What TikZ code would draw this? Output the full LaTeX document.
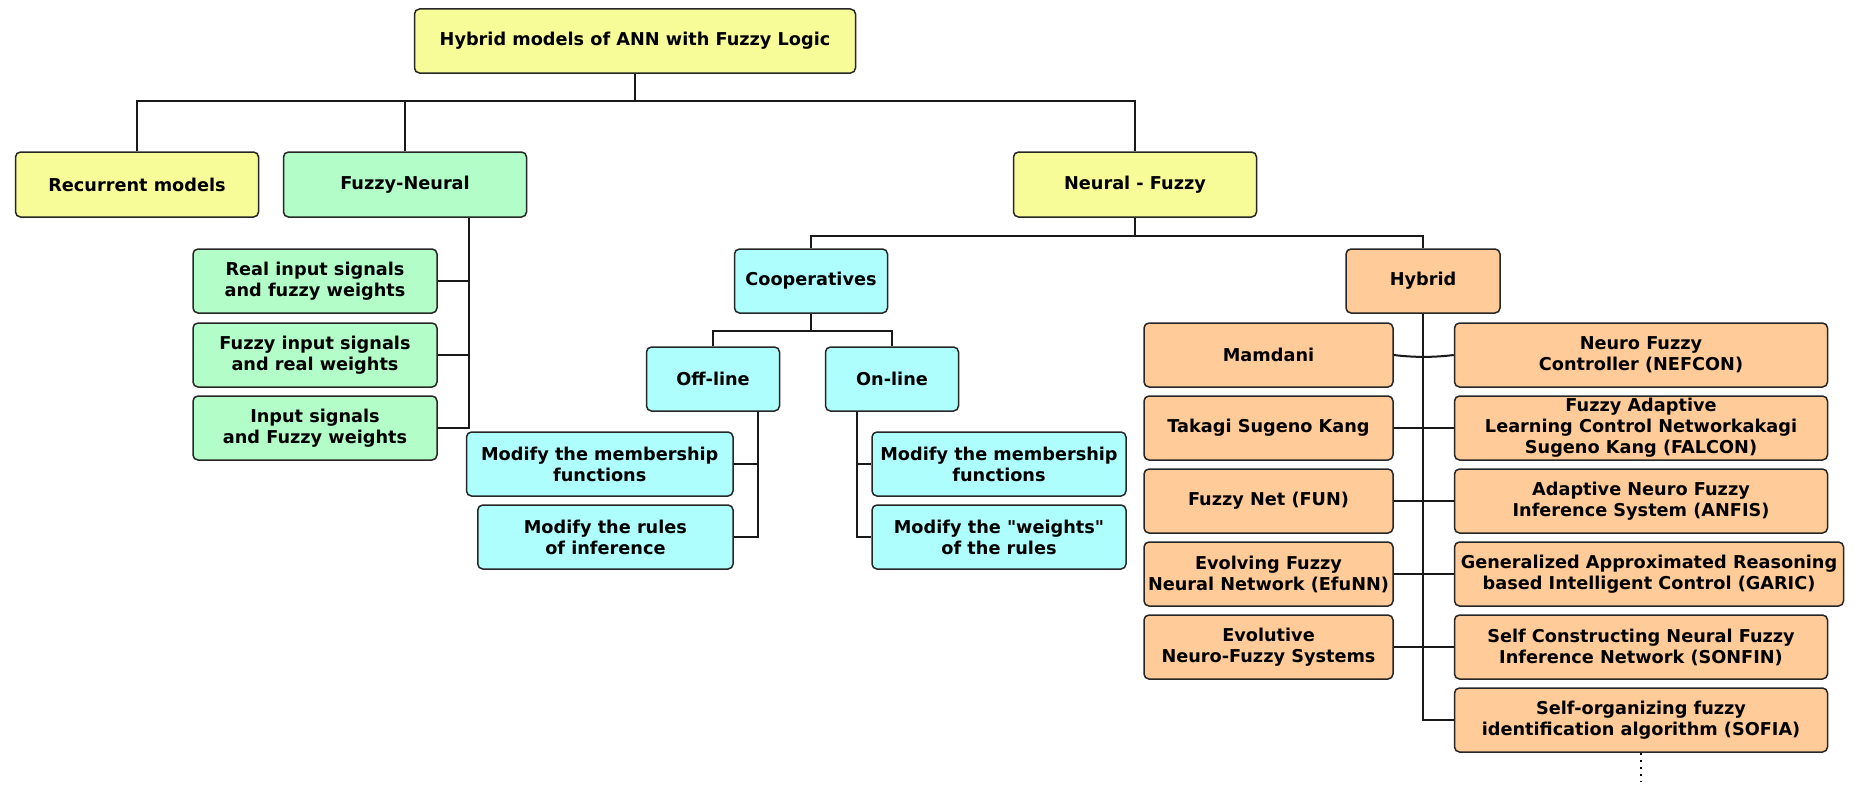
\documentclass[tikz,border=0pt]{standalone}
\usepackage{fontspec}
\setmainfont{DejaVu Sans}[Ligatures=TeXOff]
\definecolor{yel}{HTML}{F8FC98}
\definecolor{grn}{HTML}{B3FDC8}
\definecolor{cyn}{HTML}{AEFEFE}
\definecolor{org}{HTML}{FFCB98}
\tikzset{
  box/.style={draw=black!85, line width=1.5pt, rounded corners=5pt, align=center,
    font=\fontsize{17.7}{21}\selectfont\bfseries, inner sep=1pt, minimum height=64pt},
  conn/.style={line width=2pt, black!90},
}
\begin{document}
\begin{tikzpicture}[x=1pt,y=-1pt]
\useasboundingbox (0,0) rectangle (1859,784);
% level 0/1
\node[box, fill=yel, minimum width=441pt] (top) at (635,41) {Hybrid models of ANN with Fuzzy Logic};
\node[box, fill=yel, minimum width=243pt, minimum height=65pt] (rec) at (137,184.5) {Recurrent models};
\node[box, fill=grn, minimum width=243pt, minimum height=65pt] (fn) at (405,184.5) {Fuzzy-Neural};
\node[box, fill=yel, minimum width=243pt, minimum height=65pt] (nf) at (1135,184.5) {Neural - Fuzzy};
% fuzzy-neural children
\node[box, fill=grn, minimum width=244pt] (g1) at (315,281) {Real input signals\\and fuzzy weights};
\node[box, fill=grn, minimum width=244pt] (g2) at (315,355) {Fuzzy input signals\\and real weights};
\node[box, fill=grn, minimum width=244pt] (g3) at (315,428) {Input signals\\and Fuzzy weights};
% cooperatives
\node[box, fill=cyn, minimum width=153pt] (coop) at (811,281) {Cooperatives};
\node[box, fill=cyn, minimum width=133pt] (off) at (713,379) {Off-line};
\node[box, fill=cyn, minimum width=133pt] (on) at (892,379) {On-line};
\node[box, fill=cyn, minimum width=266.5pt] (mm1) at (599.75,464) {Modify the membership\\functions};
\node[box, fill=cyn, minimum width=255.3pt] (mr) at (605.4,537) {Modify the rules\\of inference};
\node[box, fill=cyn, minimum width=254pt] (mm2) at (999,464) {Modify the membership\\functions};
\node[box, fill=cyn, minimum width=254pt] (mw) at (999,537) {Modify the "weights"\\of the rules};
% hybrid
\node[box, fill=org, minimum width=154pt] (hyb) at (1423,281) {Hybrid};
\node[box, fill=org, minimum width=249pt] (l1) at (1268.5,355) {Mamdani};
\node[box, fill=org, minimum width=249pt] (l2) at (1268.5,428) {Takagi Sugeno Kang};
\node[box, fill=org, minimum width=249pt] (l3) at (1268.5,501) {Fuzzy Net (FUN)};
\node[box, fill=org, minimum width=249pt] (l4) at (1268.5,574) {Evolving Fuzzy\\Neural Network (EfuNN)};
\node[box, fill=org, minimum width=249pt] (l5) at (1268.5,647) {Evolutive\\Neuro-Fuzzy Systems};
\node[box, fill=org, minimum width=373pt] (r1) at (1641,355) {Neuro Fuzzy\\Controller (NEFCON)};
\node[box, fill=org, minimum width=373pt] (r2) at (1641,428) {Fuzzy Adaptive\\Learning Control Networkakagi\\Sugeno Kang (FALCON)};
\node[box, fill=org, minimum width=373pt] (r3) at (1641,501) {Adaptive Neuro Fuzzy\\Inference System (ANFIS)};
\node[box, fill=org, minimum width=389pt] (r4) at (1649,574) {Generalized Approximated Reasoning\\based Intelligent Control (GARIC)};
\node[box, fill=org, minimum width=373pt] (r5) at (1641,647) {Self Constructing Neural Fuzzy\\Inference Network (SONFIN)};
\node[box, fill=org, minimum width=373pt] (r6) at (1641,720) {Self-organizing fuzzy\\identification algorithm (SOFIA)};
% connectors level 0
\coordinate (tb) at (635,101);
\draw[conn] (top.south) -- (tb);
\draw[conn] (rec.north) |- (tb);
\draw[conn] (fn.north) -- (fn.north |- tb);
\draw[conn] (nf.north) |- (tb);
% fuzzy-neural
\coordinate (fnl) at ([xshift=64pt]fn.south);
\draw[conn] (fnl) |- (g3.east);
\draw[conn] (g1.east) -- (g1.east -| fnl);
\draw[conn] (g2.east) -- (g2.east -| fnl);
% neural-fuzzy
\coordinate (nfb) at (1135,236);
\draw[conn] (nf.south) -- (nfb);
\draw[conn] (coop.north) -- (coop.north |- nfb) -- (hyb.north |- nfb) -- (hyb.north);
% cooperatives
\coordinate (cb) at (811,331);
\draw[conn] (coop.south) -- (cb);
\draw[conn] (off.north) |- (cb) -| (on.north);
\coordinate (offl) at ([xshift=45pt]off.south);
\draw[conn] (offl) |- (mr.east);
\draw[conn] (mm1.east) -- (mm1.east -| offl);
\coordinate (onl) at ([xshift=-35pt]on.south);
\draw[conn] (onl) |- (mw.west);
\draw[conn] (mm2.west) -- (mm2.west -| onl);
% hybrid
\draw[conn] (hyb.south) |- (r6.west);
\draw[conn] (l1.east) .. controls +(20,2.5) and +(-20,2.5) .. (r1.west);
\draw[conn] (l2.east) -- (r2.west);
\draw[conn] (l3.east) -- (r3.west);
\draw[conn] (l4.east) -- (r4.west);
\draw[conn] (l5.east) -- (r5.west);
\coordinate (dend) at (1641,781);
\draw[line width=2pt, dash pattern=on 2.5pt off 4.5pt] (r6.south) -- (dend);
\end{tikzpicture}
\end{document}
